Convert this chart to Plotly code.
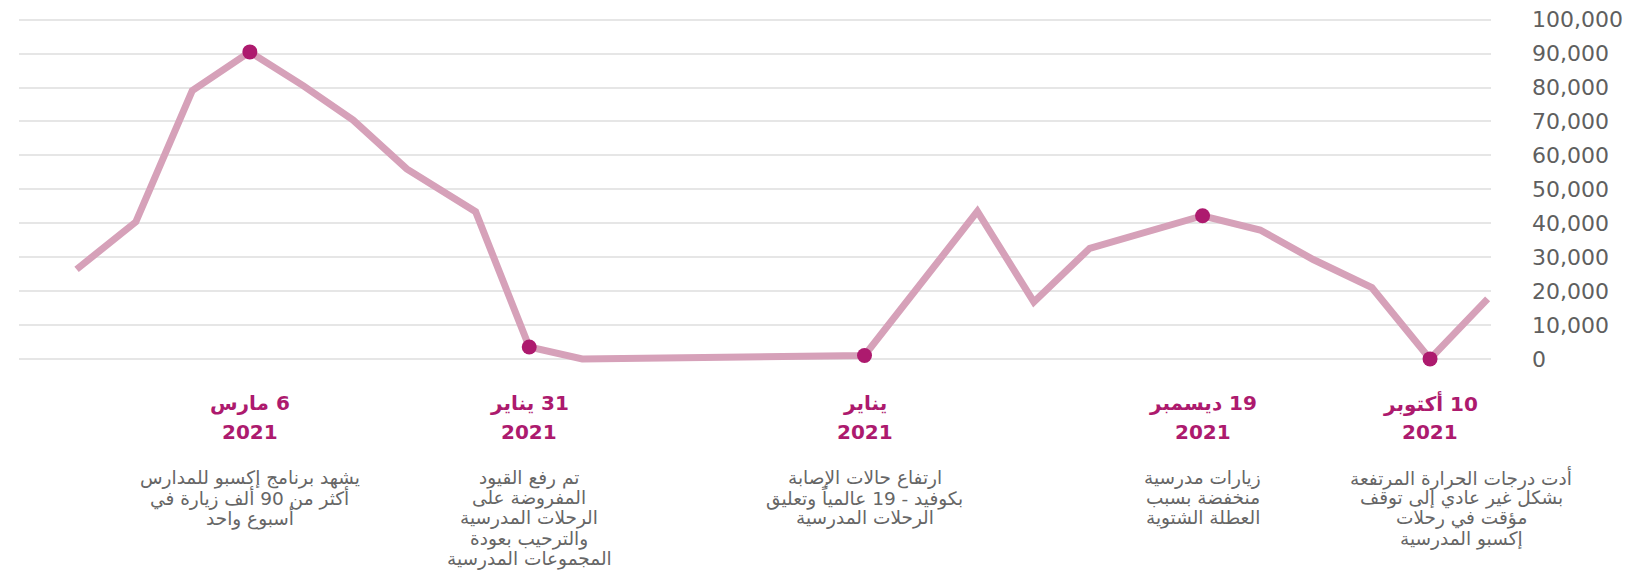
import plotly.graph_objects as go

# ---- data ----
# position along the timeline (arbitrary units, left to right as drawn)
x_pos = [0, 1.05, 2.05, 3.07, 4.02, 4.9, 5.85, 7.07, 8.02, 8.96,
         13.96, 15.96, 16.96, 17.95, 19.95, 20.97, 21.91, 22.95, 23.98, 25.0]
visits = [26400, 40400, 79100, 90500, 80500, 70400, 56000, 43400, 3500, 0,
          1000, 43500, 16800, 32600, 42200, 38000, 29300, 21000, 0, 17700]

highlight_idx = [3, 8, 10, 14, 18]
date_titles = [["6 مارس", "2021"], ["31 يناير", "2021"], ["يناير", "2021"],
               ["19 ديسمبر", "2021"], ["10 أكتوبر", "2021"]]
descriptions = [
    ["يشهد برنامج إكسبو للمدارس", "أكثر من 90 ألف زيارة في", "أسبوع واحد"],
    ["تم رفع القيود", "المفروضة على", "الرحلات المدرسية", "والترحيب بعودة",
     "المجموعات المدرسية"],
    ["ارتفاع حالات الإصابة", "بكوفيد - 19 عالمياً وتعليق", "الرحلات المدرسية"],
    ["زيارات مدرسية", "منخفضة بسبب", "العطلة الشتوية"],
    ["أدت درجات الحرارة المرتفعة", "بشكل غير عادي إلى توقف", "مؤقت في رحلات",
     "إكسبو المدرسية"],
]
desc_shift = [0, 0, 0, 0, 31]

y_ticks = list(range(0, 100001, 10000))

# ---- styling / layout (page pixels; the page body adds an 8px offset) ----
OFF = 8
PAGE_W, PAGE_H = 1639, 575
W, H = PAGE_W - OFF, PAGE_H - OFF
PX_PER_UNIT = 33.865 / 10000
Y_RANGE = [-1500, 100500]
PLOT_LEFT, PLOT_RIGHT = 19, 1491
ZERO_PAGE_Y = 358.6
plot_top = ZERO_PAGE_Y - (Y_RANGE[1]) * PX_PER_UNIT
plot_bot = ZERO_PAGE_Y - (Y_RANGE[0]) * PX_PER_UNIT
M_L = PLOT_LEFT - OFF
M_R = PAGE_W - PLOT_RIGHT
M_T = plot_top - OFF
M_B = H - (plot_bot - OFF)

LINE_COLOR = "#d6a1b9"
MARK_COLOR = "#ad1a6e"
TEXT_GRAY = "#666666"
RLM = "\u200f"


def paper_y(page_py):
    fy = page_py - OFF
    return (H - M_B - fy) / (H - M_T - M_B)


fig = go.Figure()
fig.add_trace(go.Scatter(
    x=x_pos, y=visits, mode="lines",
    line=dict(color=LINE_COLOR, width=7),
    hoverinfo="skip", showlegend=False,
))
fig.add_trace(go.Scatter(
    x=[x_pos[i] for i in highlight_idx],
    y=[visits[i] for i in highlight_idx],
    mode="markers",
    marker=dict(color=MARK_COLOR, size=15),
    cliponaxis=False, showlegend=False,
))

annotations = []
TITLE_Y = [403, 432]
DESC_Y0, DESC_DY = 477, 20.4
for i, t, d, s in zip(highlight_idx, date_titles, descriptions, desc_shift):
    for j, line in enumerate(t):
        annotations.append(dict(
            x=x_pos[i], xref="x", y=paper_y(TITLE_Y[j]), yref="paper",
            text="<b>" + RLM + line + "</b>", showarrow=False,
            xanchor="center", yanchor="middle",
            font=dict(family="DejaVu Sans", size=20, color=MARK_COLOR),
        ))
    for j, line in enumerate(d):
        annotations.append(dict(
            x=x_pos[i], xref="x", xshift=s,
            y=paper_y(DESC_Y0 + j * DESC_DY), yref="paper",
            text=RLM + line, showarrow=False, xanchor="center", yanchor="middle",
            font=dict(family="DejaVu Sans", size=18.5, color=TEXT_GRAY),
        ))

fig.update_layout(
    width=W, height=H,
    margin=dict(l=M_L, r=M_R, t=M_T, b=M_B, pad=0, autoexpand=False),
    paper_bgcolor="white", plot_bgcolor="white",
    annotations=annotations,
    xaxis=dict(range=[-1.02, 25.06], showgrid=False, zeroline=False,
               showticklabels=False, showline=False, fixedrange=True,
               automargin=False),
    yaxis=dict(range=Y_RANGE, side="right", tickvals=y_ticks,
               tickformat=",d", showgrid=True, gridcolor="#e6e6e6", gridwidth=1.5,
               zeroline=False, showline=False, ticks="", automargin=False,
               ticklabelstandoff=40, ticklabeloverflow="allow",
               tickfont=dict(family="DejaVu Sans", size=22, color="#5f5f5f")),
)

fig.write_html("out.html")
